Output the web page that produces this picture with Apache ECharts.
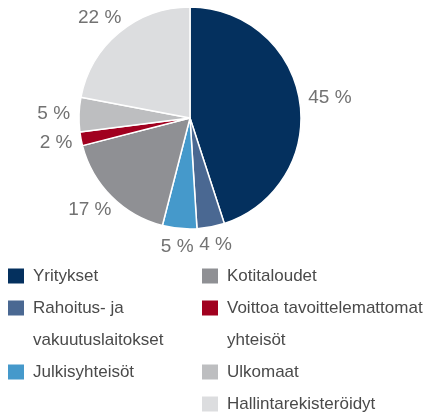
<!DOCTYPE html>
<html>
<head>
<meta charset="utf-8">
<script src="https://cdn.jsdelivr.net/npm/echarts@6/dist/echarts.min.js"></script>
<style>
  html, body { margin: 0; padding: 0; background: #ffffff; }
  #chart { width: 427px; height: 414px; }
</style>
</head>
<body>
<div id="chart"></div>
<script>
// Ownership breakdown, percent of total
const categories = [
  'Yritykset',
  'Rahoitus- ja vakuutuslaitokset',
  'Julkisyhteisöt',
  'Kotitaloudet',
  'Voittoa tavoittelemattomat yhteisöt',
  'Ulkomaat',
  'Hallintarekisteröidyt'
];
const shares = [45, 4, 5, 17, 2, 5, 22];
const sliceColors = ['#04305e', '#4a6892', '#4599cb', '#8f9094', '#a1001f', '#bdbec0', '#dcdddf'];

// Legend wording split over lines, and which column each entry sits in
const legendLines = [
  ['Yritykset'],
  ['Rahoitus- ja', 'vakuutuslaitokset'],
  ['Julkisyhteisöt'],
  ['Kotitaloudet'],
  ['Voittoa tavoittelemattomat', 'yhteisöt'],
  ['Ulkomaat'],
  ['Hallintarekisteröidyt']
];
const legendColumns = [[0, 1, 2], [3, 4, 5, 6]];

const FONT = '"Liberation Sans", Arial, sans-serif';
const PIE_CX = 190, PIE_CY = 118, PIE_R = 111, LABEL_GAP = 9;
const ROW_H = 32, FIRST_ROW = 276, COL_X = [8, 202];

// mid angle of every slice, clockwise from 12 o'clock
const total = shares.reduce((a, b) => a + b, 0);
const midAngles = [];
let acc = 0;
shares.forEach(v => { midAngles.push((acc + v / 2) / total * Math.PI * 2); acc += v; });

// one legend block per entry; wrapped names get an empty leading line so the
// swatch (centred on the text block) lines up with their first line
const legends = [];
legendColumns.forEach((col, ci) => {
  let row = 0;
  col.forEach(idx => {
    const lines = legendLines[idx];
    const centre = FIRST_ROW + row * ROW_H;
    const multi = lines.length > 1;
    legends.push({
      data: [categories[idx]],
      left: COL_X[ci],
      top: multi ? centre - ROW_H * 1.5 : centre - ROW_H / 2,
      orient: 'vertical',
      padding: 0,
      itemGap: 0,
      itemWidth: 16,
      itemHeight: 15,
      icon: 'rect',
      selectedMode: false,
      itemStyle: { borderWidth: 0 },
      formatter: () => (multi ? '\n' : '') + lines.join('\n'),
      textStyle: {
        fontFamily: FONT,
        fontSize: 17,
        color: '#4a4a4a',
        lineHeight: ROW_H,
        padding: [0, 0, 0, 4]
      }
    });
    row += lines.length;
  });
});

const chart = echarts.init(document.getElementById('chart'), null, { renderer: 'canvas' });
chart.setOption({
  animation: false,
  backgroundColor: '#ffffff',
  legend: legends,
  series: [{
    type: 'pie',
    center: [PIE_CX, PIE_CY],
    radius: PIE_R,
    startAngle: 90,
    clockwise: true,
    avoidLabelOverlap: false,
    data: categories.map((name, i) => ({
      name: name,
      value: shares[i],
      itemStyle: { color: sliceColors[i] }
    })),
    itemStyle: { borderColor: '#ffffff', borderWidth: 1.5 },
    label: {
      show: true,
      position: 'outside',
      formatter: '{c} %',
      fontFamily: FONT,
      fontSize: 19,
      color: '#727272'
    },
    labelLine: { show: false },
    emphasis: { disabled: true },
    // push each value label just outside the rim along its slice's mid angle
    labelLayout: function (p) {
      const a = midAngles[p.dataIndex];
      const dx = Math.sin(a), dy = -Math.cos(a);
      const w = p.labelRect.width, h = p.labelRect.height;
      const r = PIE_R + LABEL_GAP;
      return {
        x: PIE_CX + dx * r + dx * w / 2,
        y: PIE_CY + dy * r + dy * h / 2,
        align: 'center',
        verticalAlign: 'middle'
      };
    }
  }]
});
</script>
</body>
</html>
